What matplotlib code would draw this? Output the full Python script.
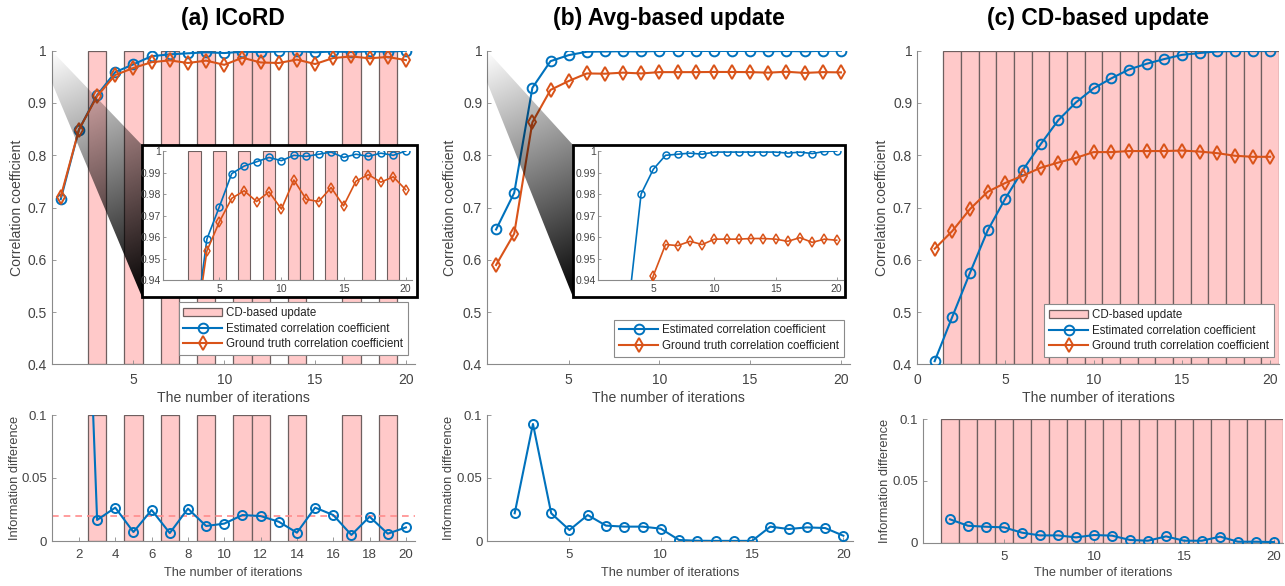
import numpy as np
import matplotlib
matplotlib.use('Agg')
import matplotlib.pyplot as plt
from matplotlib.patches import Rectangle, Polygon, Patch
from matplotlib.lines import Line2D

plt.rcParams['font.family'] = ['Liberation Sans', 'DejaVu Sans']

# ---------------- data ----------------
iters = list(range(1, 21))
diff_iters = list(range(2, 21))

a_est = [0.716, 0.849, 0.915, 0.959, 0.974, 0.9895, 0.993, 0.995, 0.997, 0.9955,
         0.998, 0.9975, 0.9985, 0.9995, 0.997, 0.9985, 0.9975, 0.999, 0.998, 1.0]
a_gt = [0.721, 0.849, 0.913, 0.9535, 0.967, 0.978, 0.9815, 0.9765, 0.981, 0.973,
        0.9865, 0.9775, 0.9765, 0.983, 0.9745, 0.986, 0.989, 0.9855, 0.988, 0.982]
a_diff = [0.40, 0.0167, 0.0265, 0.0071, 0.0246, 0.0063, 0.0257, 0.0119, 0.0138, 0.0206,
          0.0198, 0.0153, 0.0066, 0.0265, 0.0206, 0.0048, 0.0193, 0.0058, 0.0108]
a_cd = [3, 5, 7, 9, 11, 12, 14, 17, 19]

b_est = [0.658, 0.728, 0.929, 0.980, 0.9915, 0.998, 0.9985, 0.999, 0.9985, 0.9995,
         0.9995, 0.9995, 0.9995, 0.9995, 0.9995, 0.999, 0.9995, 0.9988, 0.9998, 1.0]
b_gt = [0.590, 0.650, 0.863, 0.925, 0.942, 0.9565, 0.956, 0.958, 0.9565, 0.959,
        0.959, 0.959, 0.9593, 0.9593, 0.959, 0.958, 0.9597, 0.9575, 0.959, 0.9585]
b_diff = [0.022, 0.0929, 0.022, 0.0087, 0.0206, 0.0122, 0.0114, 0.0114, 0.0098, 0.0008,
          0.0002, 0.0001, 0.0001, 0.0001, 0.0114, 0.0095, 0.0108, 0.0103, 0.0042]

c_est = [0.406, 0.491, 0.575, 0.656, 0.717, 0.772, 0.821, 0.867, 0.901, 0.928,
         0.947, 0.964, 0.975, 0.984, 0.992, 0.9955, 0.9987, 0.9995, 1.0, 1.0]
c_gt = [0.621, 0.655, 0.697, 0.730, 0.747, 0.761, 0.776, 0.786, 0.795, 0.806,
        0.806, 0.808, 0.808, 0.808, 0.809, 0.807, 0.804, 0.799, 0.797, 0.797]
c_diff = [0.0189, 0.0137, 0.0129, 0.0124, 0.0081, 0.0059, 0.0059, 0.0043, 0.0062, 0.0057,
          0.0022, 0.0016, 0.0051, 0.0016, 0.0016, 0.0049, 0.0008, 0.0008, 0.0005]
c_cd = list(range(2, 21))

threshold = 0.02

titles = ['(a) ICoRD', '(b) Avg-based update', '(c) CD-based update']
top_yticks = [0.4, 0.5, 0.6, 0.7, 0.8, 0.9, 1.0]
top_ylabels = ['0.4', '0.5', '0.6', '0.7', '0.8', '0.9', '1']
bot_yticks = [0, 0.05, 0.1]
bot_ylabels = ['0', '0.05', '0.1']
ins_yticks = [0.94, 0.95, 0.96, 0.97, 0.98, 0.99, 1.0]
ins_ylabels = ['0.94', '0.95', '0.96', '0.97', '0.98', '0.99', '1']

lbl_est = 'Estimated correlation coefficient'
lbl_gt = 'Ground truth correlation coefficient'
lbl_cd = 'CD-based update'
xlab = 'The number of iterations'
ylab_top = 'Correlation coefficient'
ylab_bot = 'Information difference'

# ---------------- style ----------------
BLUE = '#0072BD'
ORANGE = '#D95319'
PINK = '#FFC9C9'
EDGE = '#6e5f5f'
TXT = '#444444'
SPN = '#8a8a8a'

W, H = 1285, 586
fig = plt.figure(figsize=(W / 100, H / 100), dpi=100)


def rect(l, t, r, b):
    return [l / W, (H - b) / H, (r - l) / W, (b - t) / H]


def style(ax, fs=10, pad_x=6, pad_y=3.5, tl=3):
    for s in ['top', 'right']:
        ax.spines[s].set_visible(False)
    for s in ['left', 'bottom']:
        ax.spines[s].set_color(SPN)
        ax.spines[s].set_linewidth(0.8)
    ax.tick_params(axis='both', direction='in', length=tl, width=0.6, color=SPN,
                   labelcolor=TXT, labelsize=fs)
    ax.tick_params(axis='x', pad=pad_x)
    ax.tick_params(axis='y', pad=pad_y)
    ax.set_facecolor('white')


def bars(ax, cd, lo, hi, lw=0.9):
    ax.bar(cd, [hi - lo] * len(cd), bottom=lo, width=1.0, color=PINK,
           edgecolor=EDGE, linewidth=lw, zorder=1)


def lines(ax, est, gt, ms=7, lw=1.5):
    ax.plot(iters, est, '-o', color=BLUE, mfc='none', ms=ms, mew=1.4, lw=lw, zorder=3)
    ax.plot(iters, gt, '-d', color=ORANGE, mfc='none', ms=ms, mew=1.4, lw=lw, zorder=4)


def legend(ax, with_cd, anchor):
    handles = []
    if with_cd:
        handles.append(Patch(facecolor=PINK, edgecolor=EDGE, linewidth=0.9, label=lbl_cd))
    handles.append(Line2D([], [], color=BLUE, marker='o', mfc='none', ms=7, mew=1.4, lw=1.5, label=lbl_est))
    handles.append(Line2D([], [], color=ORANGE, marker='d', mfc='none', ms=7, mew=1.4, lw=1.5, label=lbl_gt))
    lg = ax.legend(handles=handles, loc='lower right', bbox_to_anchor=anchor,
                   borderaxespad=0, fontsize=8.3, handlelength=3.4, handletextpad=0.35,
                   labelspacing=0.32, borderpad=0.4, fancybox=False, framealpha=1,
                   edgecolor='#8a8a8a')
    lg.get_frame().set_linewidth(0.8)
    for t in lg.get_texts():
        t.set_color('#222222')
    lg.set_zorder(10)


# axes pixel boxes (l, t, r, b)
boxes_top = [(51.7, 50.7, 415, 364.3), (487, 50.7, 850, 364.3), (917, 50.7, 1279, 364.3)]
boxes_bot = [(51.7, 415, 415, 541), (487.3, 415, 852.5, 541), (923, 419, 1283, 542.7)]
ylab_px_top = [17, 450.5, 882]
ylab_px_bot = [15, 448.5, 885]

tops, bots = [], []
for i in range(3):
    ax = fig.add_axes(rect(*boxes_top[i]), zorder=1)
    style(ax)
    tops.append(ax)
    axb = fig.add_axes(rect(*boxes_bot[i]), zorder=1)
    style(axb, fs=9.5)
    bots.append(axb)

# ---- panel (a)
ax = tops[0]
bars(ax, a_cd, 0.4, 1.0)
lines(ax, a_est, a_gt)
ax.set_xlim(0.5, 20.5)
ax.set_ylim(0.4, 1.0)
ax.set_xticks([5, 10, 15, 20])

axb = bots[0]
bars(axb, a_cd, 0.0, 0.1)
axb.axhline(threshold, color='#FF8C8C', ls=(0, (4, 3)), lw=1.2, zorder=2)
axb.plot(diff_iters, a_diff, '-o', color=BLUE, mfc='none', ms=6.5, mew=1.4, lw=1.5, zorder=3)
axb.set_xlim(0.5, 20.5)
axb.set_xticks(list(range(2, 21, 2)))

# ---- panel (b)
ax = tops[1]
lines(ax, b_est, b_gt)
ax.set_xlim(0.5, 20.5)
ax.set_ylim(0.4, 1.0)
ax.set_xticks([5, 10, 15, 20])

axb = bots[1]
axb.plot(diff_iters, b_diff, '-o', color=BLUE, mfc='none', ms=6.5, mew=1.4, lw=1.5, zorder=3)
axb.set_xlim(0.5, 20.5)
axb.set_xticks([5, 10, 15, 20])

# ---- panel (c)
ax = tops[2]
bars(ax, c_cd, 0.4, 1.0)
lines(ax, c_est, c_gt)
ax.set_xlim(0.0, 20.5)
ax.set_ylim(0.4, 1.0)
ax.set_xticks([0, 5, 10, 15, 20])

axb = bots[2]
bars(axb, c_cd, 0.0, 0.1)
axb.plot(diff_iters, c_diff, '-o', color=BLUE, mfc='none', ms=6.5, mew=1.4, lw=1.5, zorder=3)
axb.set_xlim(0.5, 20.5)
axb.set_xticks([5, 10, 15, 20])

for i in range(3):
    ax = tops[i]
    l, t, r, b = boxes_top[i]
    ax.set_yticks(top_yticks)
    ax.set_yticklabels(top_ylabels)
    ax.set_xlabel(xlab, fontsize=10.1, color=TXT)
    ax.set_ylabel(ylab_top, fontsize=10.1, color=TXT)
    ax.xaxis.label.set_va('center')
    ax.yaxis.label.set_va('center')
    ax.xaxis.set_label_coords(0.5, (b - 398) / (b - t))
    ax.yaxis.set_label_coords((ylab_px_top[i] - l) / (r - l), 0.5)
    ax.set_title(titles[i], fontsize=16.5, fontweight='bold', color='black',
                 y=(b - 18) / (b - t), va='center', pad=0)

    axb = bots[i]
    l, t, r, b = boxes_bot[i]
    axb.set_ylim(0, 0.1)
    axb.set_yticks(bot_yticks)
    axb.set_yticklabels(bot_ylabels)
    axb.set_xlabel(xlab, fontsize=9.2, color=TXT)
    axb.set_ylabel(ylab_bot, fontsize=9.3, color=TXT)
    axb.xaxis.label.set_va('center')
    axb.yaxis.label.set_va('center')
    axb.xaxis.set_label_coords(0.5, (b - 573) / (b - t))
    axb.yaxis.set_label_coords((ylab_px_bot[i] - l) / (r - l), 0.5)

legend(tops[0], True, (0.981, 0.03))
legend(tops[1], False, (0.983, 0.024))
legend(tops[2], True, (0.986, 0.023))

# ---------------- insets with zoom wedges ----------------
overlay = fig.add_axes([0, 0, 1, 1], zorder=5)
overlay.axis('off')

frames = [(142, 145, 417, 297), (573, 145, 845, 297)]   # l, t, r, b (pixels from top)
inset_boxes = [(163.4, 151, 411.9, 280), (598.3, 151, 842.8, 280)]
inset_data = [(a_est, a_gt, a_cd), (b_est, b_gt, None)]

for k in range(2):
    main = tops[k]
    fl, ft, fr, fb = frames[k]
    fx0, fx1 = fl, fr
    fy_top, fy_bot = H - ft, H - fb
    p1 = main.transData.transform((0.5, 1.0))
    p2 = main.transData.transform((0.5, 0.94))
    verts = [tuple(p1), (fx0, fy_top), (fx0, fy_bot), tuple(p2)]
    nx, ny = 240, 300
    X, Y = np.meshgrid(np.linspace(p1[0], fx0, nx), np.linspace(p1[1], fy_bot, ny))
    u = (X - p1[0]) / (fx0 - p1[0])
    v = (p1[1] - Y) / (p1[1] - fy_bot)
    d = np.clip(0.15 * u + 0.9 * v, 0, 1)
    rgba = np.zeros((ny, nx, 4))
    rgba[..., 3] = d * 0.95
    im = overlay.imshow(rgba, extent=(p1[0], fx0, fy_bot, p1[1]), origin='upper',
                        aspect='auto', interpolation='bilinear', zorder=2)
    poly = Polygon(verts, closed=True, facecolor='none', edgecolor='none',
                   transform=overlay.transData)
    overlay.add_patch(poly)
    im.set_clip_path(poly)
    overlay.add_patch(Rectangle((fx0, fy_bot), fx1 - fx0, fy_top - fy_bot,
                                facecolor='white', edgecolor='black', lw=2.0, zorder=3))

    axi = fig.add_axes(rect(*inset_boxes[k]), zorder=6)
    style(axi, fs=7.5, pad_x=3, pad_y=1.5, tl=2)
    est, gt, cd = inset_data[k]
    if cd is not None:
        bars(axi, cd, 0.94, 1.0, lw=0.8)
    axi.plot(iters, est, '-o', color=BLUE, mfc='none', ms=5, mew=1.1, lw=1.2, zorder=3)
    axi.plot(iters, gt, '-d', color=ORANGE, mfc='none', ms=5, mew=1.1, lw=1.2, zorder=4)
    axi.set_xlim(0.5, 20.5)
    axi.set_ylim(0.94, 1.0)
    axi.set_xticks([5, 10, 15, 20])
    axi.set_yticks(ins_yticks)
    axi.set_yticklabels(ins_ylabels)

overlay.set_xlim(0, W)
overlay.set_ylim(0, H)

fig.savefig('out.png', dpi=100)
